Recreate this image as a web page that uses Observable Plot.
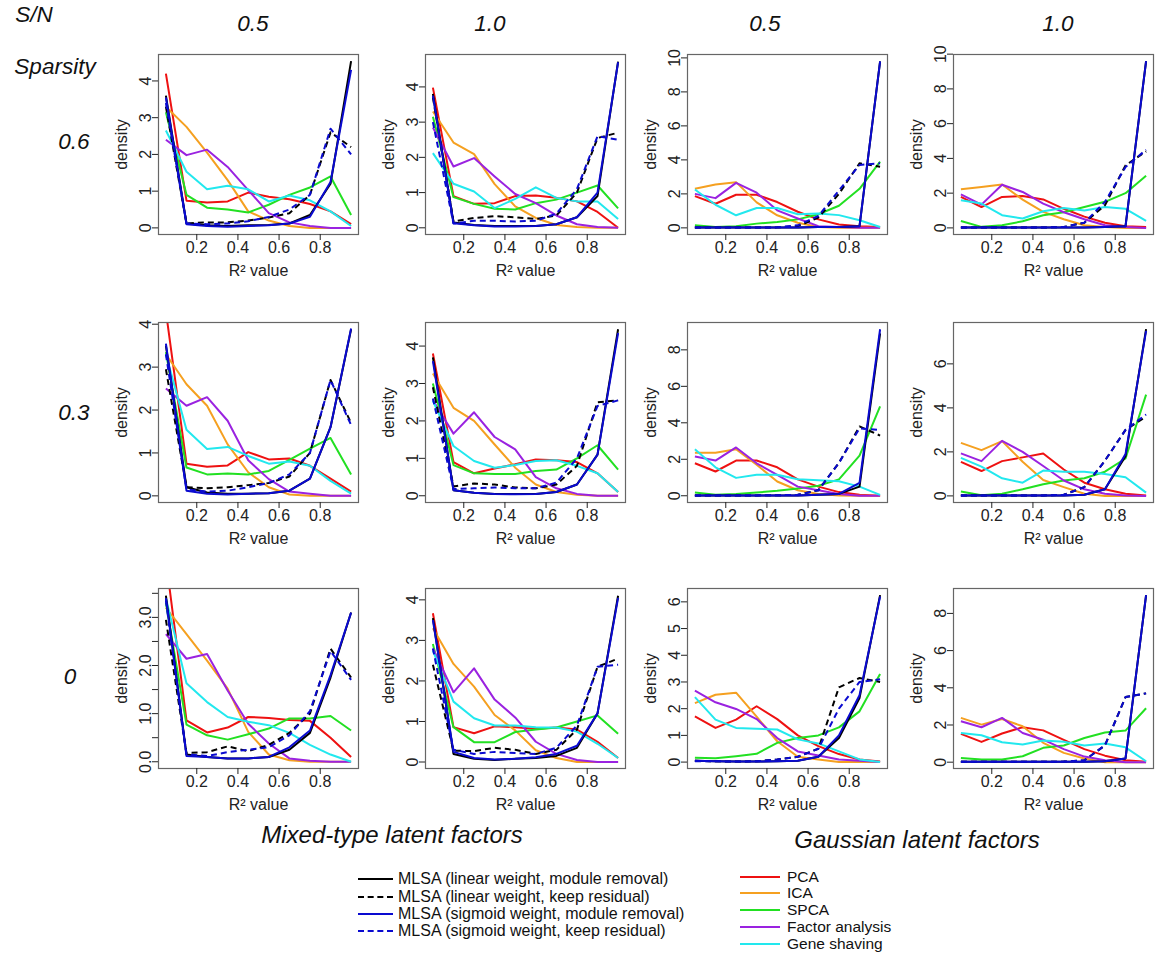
<!DOCTYPE html>
<html><head><meta charset="utf-8">
<script src="https://cdn.jsdelivr.net/npm/d3@7"></script>
<script src="https://cdn.jsdelivr.net/npm/@observablehq/plot@0.6"></script>
<style>
body{margin:0;background:#fff;}
#root{position:relative;width:1171px;height:970px;font-family:"Liberation Sans",Arial,sans-serif;overflow:hidden;background:#fff;color:#111}
.abs{position:absolute;white-space:nowrap}
.hd{font-style:italic;font-size:22.5px;transform:translate(-50%,-50%)}
.big{font-style:italic;font-size:24px;transform:translate(-50%,-50%)}
.lg{font-size:16px;transform:translateY(-50%)}
.lg2{font-size:15.5px;transform:translateY(-50%)}
.sw{position:absolute;height:0}
</style></head><body><div id="root"></div>
<script>
// ---------- data ----------
const xBins = [0.05,0.15,0.25,0.35,0.45,0.55,0.65,0.75,0.85,0.95];
const xTicks = [0.2,0.4,0.6,0.8];
const seriesNames = [
  "MLSA (linear weight, module removal)",
  "MLSA (linear weight, keep residual)",
  "MLSA (sigmoid weight, module removal)",
  "MLSA (sigmoid weight, keep residual)",
  "PCA","ICA","SPCA","Factor analysis","Gene shaving"];
const seriesColors = ["#000000","#000000","#0a0ad0","#0a0ad0","#ee1111","#f5a020","#22e022","#9a22e0","#22e8ee"];
const seriesDash = [null,"6,4",null,"6,4",null,null,null,null,null];
const drawOrder = [4,5,6,7,8,0,1,2,3];
const snLabels = ["0.5","1.0","0.5","1.0"];
const sparsityLabels = ["0.6","0.3","0"];
const groupLabels = ["Mixed-type latent factors","Gaussian latent factors"];

// rows: lin-rem, lin-keep, sig-rem, sig-keep, PCA, ICA, SPCA, FA, GS
const p11 = [
  [3.6,0.12,0.07,0.05,0.07,0.08,0.12,0.35,1.2,4.54],
  [3.3,0.12,0.15,0.15,0.2,0.28,0.4,0.9,2.6,2.2],
  [3.55,0.1,0.05,0.03,0.05,0.07,0.12,0.3,1.25,4.3],
  [3.4,0.12,0.1,0.12,0.18,0.3,0.5,0.9,2.7,2.0],
  [4.2,0.74,0.69,0.72,0.96,0.85,0.78,0.65,0.45,0.1],
  [3.3,2.75,2.05,1.3,0.45,0.2,0.05,0,0,0],
  [3.15,0.9,0.55,0.5,0.42,0.63,0.9,1.1,1.4,0.35],
  [2.4,1.98,2.13,1.66,1.03,0.4,0.15,0.05,0,0],
  [2.65,1.53,1.05,1.15,1.05,0.72,0.88,0.75,0.45,0.05]];
const p12 = [
  [3.8,0.15,0.08,0.05,0.05,0.05,0.1,0.3,0.9,4.72],
  [3.7,0.18,0.28,0.33,0.3,0.25,0.35,1.0,2.55,2.7],
  [3.75,0.13,0.07,0.04,0.04,0.05,0.1,0.3,1.0,4.7],
  [3.0,0.12,0.2,0.2,0.18,0.2,0.4,1.1,2.6,2.5],
  [3.98,0.9,0.68,0.7,0.9,0.92,0.85,0.75,0.45,0.0],
  [3.3,2.42,2.09,1.24,0.61,0.28,0.08,0.02,0,0],
  [3.15,0.87,0.68,0.54,0.52,0.7,0.8,1.0,1.2,0.55],
  [2.85,1.74,1.98,1.46,0.96,0.7,0.35,0.1,0.02,0],
  [2.12,1.25,1.03,0.56,0.82,1.15,0.85,0.75,0.75,0.25]];
const p13 = [
  [0.02,0.02,0.02,0.02,0.02,0.02,0.05,0.05,0.1,9.8],
  [0.02,0.02,0.02,0.02,0.03,0.1,0.6,2.0,3.8,3.6],
  [0.02,0.02,0.02,0.02,0.02,0.02,0.05,0.05,0.1,9.8],
  [0.02,0.02,0.02,0.02,0.03,0.15,0.7,2.2,3.7,3.8],
  [1.87,1.42,1.95,1.95,1.52,0.95,0.5,0.2,0.1,0.05],
  [2.3,2.55,2.69,1.5,0.74,0.3,0.05,0,0,0],
  [0.15,0.05,0.1,0.25,0.35,0.5,0.8,1.3,2.3,3.9],
  [2.0,1.75,2.65,2.07,1.03,0.55,0.1,0.05,0,0],
  [2.26,1.36,0.74,1.17,1.17,0.8,0.85,0.75,0.45,0.05]];
const p14 = [
  [0.02,0.02,0.02,0.02,0.02,0.02,0.02,0.05,0.1,9.6],
  [0.02,0.02,0.02,0.02,0.02,0.05,0.3,1.3,3.6,4.4],
  [0.02,0.02,0.02,0.02,0.02,0.02,0.02,0.05,0.1,9.6],
  [0.02,0.02,0.02,0.02,0.02,0.05,0.3,1.5,3.5,4.5],
  [1.78,1.2,1.78,1.84,1.64,1.1,0.65,0.3,0.1,0.05],
  [2.22,2.35,2.5,1.63,0.92,0.5,0.15,0.05,0,0],
  [0.4,0.06,0.15,0.38,0.73,0.9,1.2,1.5,2.0,3.0],
  [1.93,1.34,2.48,2.07,1.4,0.9,0.5,0.15,0.05,0],
  [1.59,1.4,0.73,0.54,0.96,1.15,1.0,1.2,1.1,0.4]];
const p21 = [
  [3.5,0.2,0.08,0.05,0.05,0.06,0.12,0.4,1.6,3.88],
  [2.95,0.2,0.18,0.2,0.25,0.3,0.45,1.0,2.7,1.7],
  [3.55,0.12,0.05,0.03,0.05,0.06,0.12,0.4,1.6,3.9],
  [3.3,0.15,0.1,0.12,0.2,0.3,0.5,1.0,2.7,1.65],
  [4.3,0.75,0.68,0.71,1.02,0.85,0.87,0.7,0.4,0.1],
  [3.3,2.6,2.1,1.2,0.55,0.2,0.03,0,0,0],
  [3.35,0.66,0.5,0.52,0.5,0.58,0.84,1.1,1.35,0.5],
  [2.5,2.1,2.3,1.75,0.83,0.39,0.1,0.05,0,0],
  [3.3,1.54,1.09,1.14,0.93,0.75,0.8,0.7,0.35,0.05]];
const p22 = [
  [3.7,0.15,0.08,0.05,0.05,0.05,0.1,0.3,1.1,4.45],
  [2.9,0.25,0.33,0.3,0.22,0.2,0.3,0.8,2.5,2.55],
  [3.6,0.15,0.08,0.05,0.04,0.05,0.1,0.3,1.1,4.35],
  [2.6,0.18,0.2,0.22,0.2,0.2,0.35,1.0,2.4,2.55],
  [3.8,0.9,0.6,0.73,0.84,0.97,0.95,0.9,0.6,0.1],
  [3.27,2.35,2.0,1.37,0.75,0.3,0.1,0.03,0,0],
  [3.0,0.82,0.6,0.58,0.58,0.66,0.7,1.0,1.35,0.7],
  [2.55,1.66,2.23,1.57,1.24,0.5,0.2,0.05,0,0],
  [2.54,1.33,0.93,0.75,0.82,0.93,0.95,0.8,0.6,0.1]];
const p23 = [
  [0.02,0.02,0.02,0.02,0.02,0.02,0.05,0.1,0.5,8.9],
  [0.02,0.02,0.02,0.02,0.03,0.05,0.3,1.8,3.8,3.3],
  [0.02,0.02,0.02,0.02,0.02,0.02,0.05,0.1,0.7,9.13],
  [0.02,0.02,0.02,0.02,0.03,0.05,0.3,1.8,3.7,3.6],
  [1.78,1.33,1.93,1.93,1.56,0.9,0.5,0.2,0.05,0],
  [2.36,2.36,2.55,1.7,0.78,0.3,0.1,0.02,0,0],
  [0.18,0.05,0.09,0.18,0.27,0.4,0.55,0.9,2.2,4.9],
  [2.15,1.93,2.65,1.78,1.15,0.5,0.3,0.1,0,0],
  [2.55,1.56,0.98,1.15,1.15,0.9,0.85,0.8,0.5,0.05]];
const p24 = [
  [0.02,0.02,0.02,0.02,0.02,0.02,0.05,0.3,1.8,7.58],
  [0.02,0.02,0.02,0.02,0.02,0.05,0.4,1.6,3.0,3.6],
  [0.02,0.02,0.02,0.02,0.02,0.02,0.05,0.3,1.9,7.5],
  [0.02,0.02,0.02,0.02,0.02,0.05,0.4,1.6,3.0,3.7],
  [1.55,1.13,1.58,1.75,1.93,1.2,0.6,0.3,0.1,0.02],
  [2.41,2.08,2.49,1.55,0.72,0.4,0.1,0,0,0],
  [0.2,0.03,0.1,0.3,0.53,0.7,0.8,1.1,1.7,4.6],
  [1.93,1.58,2.5,2.0,1.36,0.7,0.3,0.1,0.02,0],
  [1.73,1.33,0.8,0.6,1.15,1.1,1.1,1.0,0.85,0.15]];
const p31 = [
  [3.45,0.15,0.1,0.07,0.07,0.1,0.25,0.6,1.75,3.1],
  [2.95,0.18,0.2,0.32,0.22,0.35,0.6,1.0,2.35,1.75],
  [3.4,0.12,0.1,0.07,0.07,0.1,0.3,0.65,1.8,3.1],
  [3.35,0.15,0.12,0.2,0.25,0.3,0.55,1.05,2.3,1.7],
  [4.2,0.86,0.61,0.71,0.93,0.91,0.87,0.85,0.5,0.1],
  [3.2,2.65,2.1,1.52,0.62,0.15,0.03,0,0,0],
  [3.3,0.77,0.55,0.46,0.57,0.69,0.9,0.9,0.95,0.65],
  [2.65,2.14,2.24,1.48,0.79,0.38,0.07,0.02,0,0],
  [3.4,1.63,1.24,0.93,0.83,0.76,0.6,0.35,0.15,0.0]];
const p32 = [
  [3.55,0.2,0.08,0.05,0.08,0.1,0.15,0.35,1.2,4.1],
  [2.4,0.28,0.27,0.35,0.3,0.2,0.3,0.8,2.35,2.55],
  [3.5,0.25,0.1,0.06,0.08,0.12,0.2,0.4,1.2,4.05],
  [2.8,0.3,0.2,0.25,0.22,0.2,0.35,0.9,2.35,2.4],
  [3.67,0.86,0.71,0.88,0.86,0.82,0.85,0.8,0.5,0.1],
  [3.3,2.42,1.86,1.16,0.78,0.29,0.1,0,0,0],
  [2.91,0.86,0.49,0.49,0.74,0.8,0.85,1.0,1.15,0.7],
  [2.8,1.72,2.31,1.54,1.1,0.5,0.2,0.05,0,0],
  [2.75,1.49,1.08,0.9,0.9,0.86,0.85,0.75,0.45,0.1]];
const p33 = [
  [0.05,0.03,0.02,0.02,0.03,0.05,0.2,0.9,2.4,6.25],
  [0.05,0.03,0.02,0.03,0.1,0.2,0.5,2.8,3.15,3.0],
  [0.05,0.03,0.02,0.02,0.03,0.05,0.2,1.0,2.5,6.2],
  [0.03,0.03,0.02,0.03,0.1,0.2,0.5,2.0,3.0,3.1],
  [1.71,1.28,1.59,2.09,1.61,1.0,0.6,0.3,0.1,0.02],
  [2.21,2.52,2.6,1.7,0.78,0.2,0.1,0,0,0],
  [0.16,0.14,0.22,0.31,0.72,0.9,1.0,1.3,1.9,3.3],
  [2.68,2.24,1.99,1.61,0.9,0.4,0.25,0.1,0.05,0],
  [2.43,1.59,1.28,1.25,1.22,0.85,0.7,0.4,0.1,0]];
const p34 = [
  [0.02,0.02,0.02,0.02,0.02,0.02,0.02,0.05,0.2,8.98],
  [0.02,0.02,0.02,0.02,0.02,0.03,0.1,0.9,3.5,3.7],
  [0.02,0.02,0.02,0.02,0.02,0.02,0.02,0.05,0.2,8.98],
  [0.02,0.02,0.02,0.02,0.02,0.03,0.1,0.9,3.5,3.7],
  [1.52,1.09,1.54,1.88,1.71,1.2,0.7,0.35,0.1,0.02],
  [2.38,2.02,2.32,1.93,1.04,0.5,0.2,0,0,0],
  [0.23,0.14,0.14,0.32,0.77,0.9,1.3,1.6,1.7,2.9],
  [2.2,1.88,2.38,1.57,1.21,0.7,0.3,0.1,0,0],
  [1.57,1.45,1.07,0.95,1.16,1.1,0.9,1.0,0.8,0.05]];

const panels = [[p11,p12,p13,p14],[p21,p22,p23,p24],[p31,p32,p33,p34]];
const yDomains = [
  [[-0.18,4.72],[-0.19,4.92],[-0.39,10.2],[-0.38,9.98]],
  [[-0.155,4.04],[-0.18,4.63],[-0.37,9.5],[-0.3,7.88]],
  [[-0.14,3.6],[-0.16,4.28],[-0.24,6.5],[-0.34,9.34]]];
const yTicks = [
  [[0,1,2,3,4],[0,1,2,3,4],[0,2,4,6,8,10],[0,2,4,6,8,10]],
  [[0,1,2,3,4],[0,1,2,3,4],[0,2,4,6,8],[0,2,4,6]],
  [[0,0.5,1,1.5,2,2.5,3,3.5],[0,1,2,3,4],[0,1,2,3,4,5,6],[0,2,4,6,8]]];

// ---------- layout ----------
const root = document.getElementById("root");
const boxLeft = [158,425,687,953];
const boxTop = [54,322,588];
const W = 200, H = 180;
const mL = 60, mR = 8, mT = 6, mB = 50;
const font = "'Liberation Sans', Arial, sans-serif";

function makePanel(r, c) {
  const data = panels[r][c];
  const rows = [];
  data.forEach((vals, s) => vals.forEach((v, i) => rows.push({x: xBins[i], y: v, s})));
  const fmt = (r === 2 && c === 0) ? (d => Number.isInteger(d) ? d.toFixed(1) : "") : (d => String(d));
  const marks = [];
  for (const s of drawOrder) {
    marks.push(Plot.line(rows.filter(d => d.s === s), {
      x: "x", y: "y", stroke: seriesColors[s], strokeWidth: 2,
      strokeDasharray: seriesDash[s] || undefined, clip: true,
      strokeLinejoin: "round", strokeLinecap: "butt"
    }));
  }
  marks.push(Plot.frame({stroke: "#666", strokeWidth: 1.2}));
  marks.push(Plot.axisX({ticks: xTicks, tickSize: 6, tickPadding: 1, tickFormat: d => d.toFixed(1),
    fontSize: 16, label: "R² value", labelAnchor: "center", labelArrow: "none", labelOffset: 41}));
  marks.push(Plot.axisY({ticks: yTicks[r][c], tickSize: 6, tickPadding: 2, tickRotate: -90, tickFormat: fmt,
    fontSize: 16, label: "density", labelAnchor: "center", labelArrow: "none", labelOffset: 43}));
  const svg = Plot.plot({
    width: mL + W + mR, height: mT + H + mB,
    marginLeft: mL, marginRight: mR, marginTop: mT, marginBottom: mB,
    x: {domain: [0.014, 0.986]},
    y: {domain: yDomains[r][c]},
    style: {fontFamily: font, fontSize: "16px", color: "#222", background: "transparent", overflow: "visible"},
    marks
  });
  svg.style.position = "absolute";
  svg.style.left = (boxLeft[c] - mL) + "px";
  svg.style.top = (boxTop[r] - mT) + "px";
  root.appendChild(svg);
}
for (let r = 0; r < 3; r++) for (let c = 0; c < 4; c++) makePanel(r, c);

function label(text, x, y, cls) {
  const d = document.createElement("div");
  d.className = "abs " + cls;
  d.style.left = x + "px"; d.style.top = y + "px";
  d.textContent = text;
  root.appendChild(d);
  return d;
}
label("S/N", 34, 15, "hd");
const snX = [253, 490, 765, 1058];
snLabels.forEach((t, i) => label(t, snX[i], 24, "hd"));
label("Sparsity", 55, 67, "hd");
const spY = [142, 413, 677];
const spX = [74, 74, 70];
sparsityLabels.forEach((t, i) => label(t, spX[i], spY[i], "hd"));
label(groupLabels[0], 392, 835, "big");
label(groupLabels[1], 917, 840, "big");

// legends
function legendRow(s, sx, sw, tx, y, cls) {
  const sEl = document.createElement("div");
  sEl.className = "sw";
  sEl.style.left = sx + "px"; sEl.style.top = (y - 1) + "px"; sEl.style.width = sw + "px";
  sEl.style.borderTop = "2px " + (seriesDash[s] ? "dashed " : "solid ") + seriesColors[s];
  root.appendChild(sEl);
  label(seriesNames[s], tx, y, cls);
}
const leftY = [879, 897, 914, 931];
[0,1,2,3].forEach((s, i) => legendRow(s, 358, 35, 398, leftY[i], "lg"));
const rightY = [877, 893, 910, 927, 944];
[4,5,6,7,8].forEach((s, i) => legendRow(s, 740, 40, 787, rightY[i], "lg2"));
</script></body></html>
